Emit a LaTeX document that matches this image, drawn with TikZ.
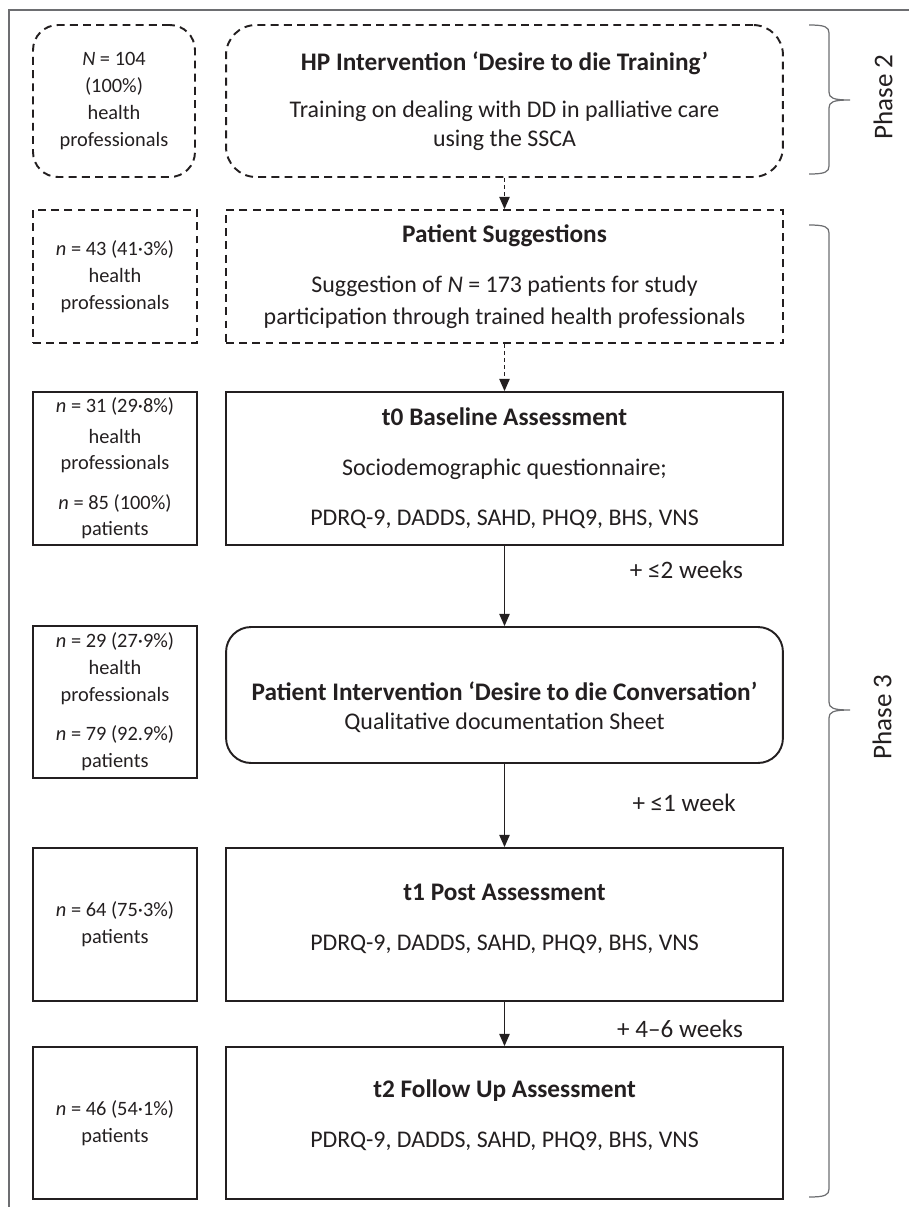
\documentclass[tikz,border=0pt]{standalone}
\usepackage{fontspec}
\setmainfont{Carlito}
\usetikzlibrary{arrows.meta}
\definecolor{ink}{HTML}{231F20}
\definecolor{frame}{HTML}{6D6E71}
\tikzset{>/.tip={Triangle[length=7pt,width=6pt]}}
\tikzset{
  countbox/.style={draw=ink, line width=1.1pt, minimum width=3.28cm, align=center, inner sep=0pt},
  stagebox/.style={draw=ink, line width=1.1pt, minimum width=11.14cm, align=center, inner sep=0pt,
    font=\fontsize{13.6}{16.4}\selectfont},
  planned/.style={dash pattern=on 4.5pt off 3pt},
  flow/.style={->, draw=ink, line width=0.6pt},
  pending/.style={flow, dash pattern=on 2.5pt off 1.5pt},
  weeks/.style={anchor=east, font=\fontsize{14.3}{16}\selectfont},
  phase/.style={rotate=90, font=\fontsize{15.4}{17}\selectfont}
}
\newcommand{\stagetitle}[1]{{\fontsize{14.4}{16.4}\selectfont\bfseries #1}}
% top, tip and bottom of a phase brace
\newcommand{\phasebrace}[3]{%
  \draw[frame, line width=0.7pt] (809,#1) .. controls (825,#1) and (829,#1+2) .. (829,#1+8)
    -- (829,#2-8) .. controls (829,#2-2) and (833,#2) .. (850,#2)
    .. controls (833,#2) and (829,#2+2) .. (829,#2+8)
    -- (829,#3-8) .. controls (829,#3-2) and (825,#3) .. (809,#3);}

\begin{document}
\begin{tikzpicture}[x=0.02cm, y=-0.02cm, text=ink, font=\fontsize{11.6}{15.3}\selectfont]
\useasboundingbox (0,0) rectangle (909,1207);
\draw[frame, line width=0.7pt] (9,1207) -- (9,10) -- (909,10);

% phase 2
\node[countbox, planned, rounded corners=0.5cm, minimum width=3.24cm, minimum height=3.04cm] (hpall) at (114,101)
  {\textit{N} = 104\\(100\%)\\health\\professionals};
\node[stagebox, planned, rounded corners=0.6cm, minimum height=3.04cm] (training) at (504.5,101)
  {\stagetitle{HP Intervention ‘Desire to die Training’}\\[10.5pt]Training on dealing with DD in palliative care\\using the SSCA};

% phase 3
\node[countbox, planned, minimum height=2.66cm] (hpsugg) at (115,276.5)
  {\textit{n} = 43 (41·3\%)\\health\\professionals};
\node[stagebox, planned, minimum height=2.66cm] (suggest) at (504.5,276.5)
  {\stagetitle{Patient Suggestions}\\[12pt]Suggestion of \textit{N} = 173 patients for study\\[2pt]participation through trained health professionals};

\node[countbox, minimum height=3.06cm] (cnt0) at (115,468.5)
  {\textit{n} = 31 (29·8\%)\\[2pt]health\\professionals\\[7pt]\textit{n} = 85 (100\%)\\patients};
\node[stagebox, minimum height=3.06cm] (baseline) at (504.5,468.5)
  {\stagetitle{t0 Baseline Assessment}\\[12pt]Sociodemographic questionnaire;\\[12pt]PDRQ-9, DADDS, SAHD, PHQ9, BHS, VNS};

\node[countbox, minimum height=3.04cm] (cnttalk) at (115,702)
  {\textit{n} = 29 (27·9\%)\\health\\professionals\\[7pt]\textit{n} = 79 (92.9\%)\\patients};
\node[stagebox, rounded corners=0.5cm, minimum height=2.72cm] (talk) at (504.5,695)
  {\mbox{}\\[8pt]\stagetitle{Patient Intervention ‘Desire to die Conversation’}\\Qualitative documentation Sheet};

\node[countbox, minimum height=3.06cm] (cnt1) at (115,924.5)
  {\textit{n} = 64 (75·3\%)\\patients};
\node[stagebox, minimum height=3.06cm] (post) at (504.5,924.5)
  {\stagetitle{t1 Post Assessment}\\[12pt]PDRQ-9, DADDS, SAHD, PHQ9, BHS, VNS\\[-8pt]\mbox{}};

\node[countbox, minimum height=3.04cm] (cnt2) at (115,1123)
  {\textit{n} = 46 (54·1\%)\\patients};
\node[stagebox, minimum height=3.04cm] (follow) at (504.5,1123)
  {\stagetitle{t2 Follow Up Assessment}\\[12pt]PDRQ-9, DADDS, SAHD, PHQ9, BHS, VNS\\[-6pt]\mbox{}};

\draw[pending] (training) -- (suggest);
\draw[pending] (suggest) -- (baseline);
\draw[flow] (baseline) -- (talk);
\draw[flow] (talk) -- (post);
\draw[flow] (post) -- (follow);

\node[weeks] (wk0) at (749,570) {+ ≤2 weeks};
\node[weeks] (wk1) at (742,803) {+ ≤1 week};
\node[weeks] (wk2) at (749,1029) {+ 4–6 weeks};

\phasebrace{25}{100}{174}
\phasebrace{225}{710}{1197}
\node[phase] (ph2) at (883,97) {Phase 2};
\node[phase] (ph3) at (882,717) {Phase 3};
\end{tikzpicture}
\end{document}
